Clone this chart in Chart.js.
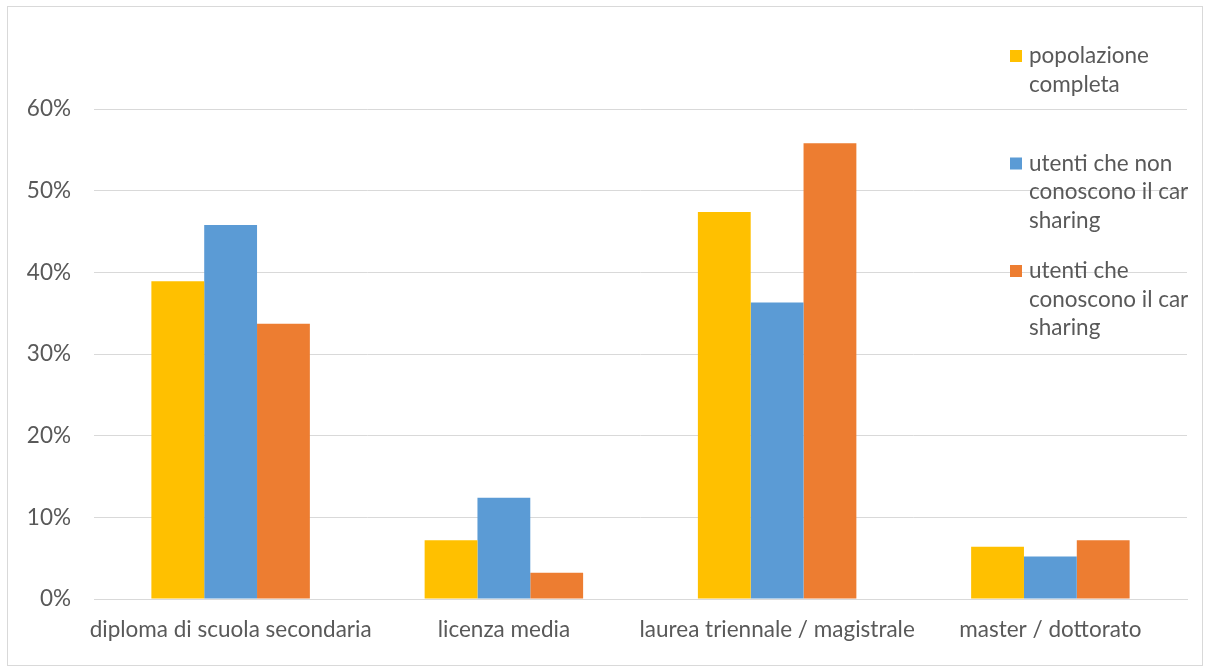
<!DOCTYPE html>
<html>
<head>
<meta charset="utf-8">
<style>
  html, body { margin: 0; padding: 0; background: #fff; }
  #wrap { position: relative; width: 1207px; height: 671px; }
  canvas { display: block; }
</style>
<script src="https://cdn.jsdelivr.net/npm/chart.js@4/dist/chart.umd.min.js"></script>
</head>
<body>
<div id="wrap"><canvas id="c" width="1207" height="671"></canvas></div>
<script>
const categories = ['diploma di scuola secondaria', 'licenza media', 'laurea triennale / magistrale', 'master / dottorato'];
const seriesNames = ['popolazione completa', 'utenti che non conoscono il car sharing', 'utenti che conoscono il car sharing'];
const popolazioneCompleta = [38.9, 7.2, 47.4, 6.4];
const utentiNonConoscono = [45.8, 12.4, 36.3, 5.2];
const utentiConoscono = [33.7, 3.2, 55.8, 7.2];
const seriesColors = ['#FFC000', '#5B9BD5', '#ED7D31'];
const yTicks = [0, 10, 20, 30, 40, 50, 60];

const FONT = 'Lato, "Liberation Sans", sans-serif';
const FSIZE = 22.5;
const TEXT = '#595959';

const frameAndLegend = {
  id: 'frameAndLegend',
  beforeDraw(chart) {
    const ctx = chart.ctx;
    ctx.save();
    ctx.fillStyle = '#ffffff';
    ctx.fillRect(0, 0, chart.width, chart.height);
    ctx.strokeStyle = '#d9d9d9';
    ctx.lineWidth = 1;
    ctx.strokeRect(7.5, 6.5, chart.width - 12, chart.height - 12);
    ctx.restore();
  },
  afterDraw(chart) {
    const ctx = chart.ctx;
    ctx.save();
    ctx.font = FSIZE + 'px ' + FONT;
    ctx.textBaseline = 'middle';
    ctx.textAlign = 'left';
    const maxW = 175;
    chart.data.datasets.forEach((ds, i) => {
      const top = 50 + i * 107.5;
      ctx.fillStyle = ds.backgroundColor;
      ctx.fillRect(1010, top, 12, 12);
      const words = ds.label.split(' ');
      const lines = [];
      let cur = '';
      words.forEach(w => {
        const t = cur ? cur + ' ' + w : w;
        if (ctx.measureText(t).width > maxW && cur) { lines.push(cur); cur = w; }
        else cur = t;
      });
      if (cur) lines.push(cur);
      ctx.fillStyle = TEXT;
      lines.forEach((ln, j) => ctx.fillText(ln, 1029, top + 6 + j * 28.5));
    });
    ctx.restore();
  }
};

new Chart(document.getElementById('c'), {
  type: 'bar',
  data: {
    labels: categories,
    datasets: [
      { label: seriesNames[0], data: popolazioneCompleta, backgroundColor: seriesColors[0] },
      { label: seriesNames[1], data: utentiNonConoscono, backgroundColor: seriesColors[1] },
      { label: seriesNames[2], data: utentiConoscono, backgroundColor: seriesColors[2] }
    ]
  },
  options: {
    responsive: false,
    animation: false,
    layout: { padding: { top: 109, right: 20, bottom: 0, left: 0 } },
    datasets: { bar: { categoryPercentage: 0.58, barPercentage: 1.0 } },
    plugins: { legend: { display: false }, tooltip: { enabled: false } },
    scales: {
      x: {
        grid: { display: false, drawTicks: false },
        border: { display: true, color: '#d9d9d9', width: 1 },
        ticks: { color: TEXT, font: { family: FONT, size: FSIZE }, padding: 17, maxRotation: 0, autoSkip: false },
        afterFit(s) { s.height = 72; }
      },
      y: {
        min: 0, max: 60,
        afterBuildTicks(s) { s.ticks = yTicks.map(v => ({ value: v })); },
        grid: { color: '#d9d9d9', lineWidth: 1, drawTicks: false },
        border: { display: false },
        ticks: { color: TEXT, font: { family: FONT, size: FSIZE }, padding: 23, callback: v => v + '%' },
        afterFit(s) { s.width = 94; }
      }
    }
  },
  plugins: [frameAndLegend]
});
</script>
</body>
</html>
